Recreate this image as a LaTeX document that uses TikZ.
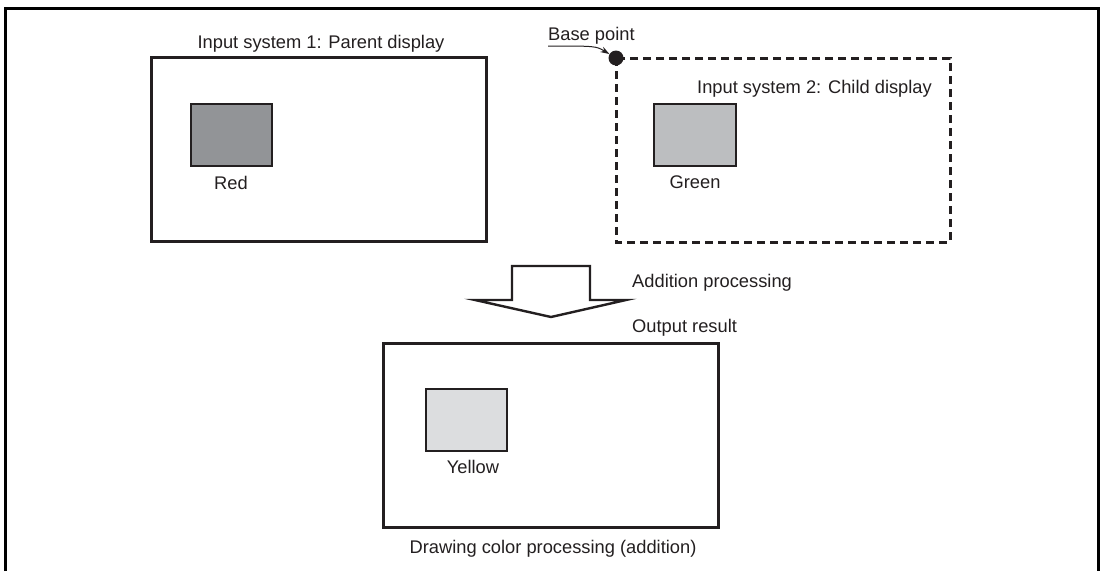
\documentclass[tikz,border=0pt]{standalone}
\usepackage{fontspec}
\setmainfont{Liberation Sans}
\usetikzlibrary{arrows.meta}
\definecolor{ink}{RGB}{35,31,32}
\definecolor{redgray}{RGB}{146,148,151}
\definecolor{greengray}{RGB}{188,190,192}
\definecolor{yellowgray}{RGB}{220,221,223}
\tikzset{
  txt/.style={font=\fontsize{18.3}{22}\selectfont, text=ink, inner sep=0pt},
  frame/.style={draw=ink, line width=3pt},
  swatch/.style={draw=ink, line width=2.4pt},
}

\begin{document}
\begin{tikzpicture}[x=1pt,y=-1pt]
\useasboundingbox (0,0) rectangle (1100,571);
\draw[line width=3pt] (5,571) -- (5,8) -- (1098,8) -- (1098,571);

% parent display
\draw[frame] (151,57) rectangle (486,241);
\node[txt, anchor=base] (ptitle) at (321,48) {Input system 1: Parent display};
\draw[swatch, fill=redgray] (191,104) rectangle (272,166);
\node[txt, anchor=base] (red) at (231,189) {Red};

% child display
\draw[frame, dash pattern=on 8pt off 5pt] (616,58) rectangle (950,242);
\node[circle, fill=ink, inner sep=0pt, minimum size=15pt] (dot) at (616,58) {};
\node[txt, anchor=base west] (bp) at (548,40) {Base point};
\coordinate (bpstart) at (548,46);
\draw[ink, line width=1pt, -{Stealth[length=9pt,width=6pt]}] (bpstart) .. controls (596,46) .. (dot);
\node[txt, anchor=base west] (ctitle) at (697,93) {Input system 2: Child display};
\draw[swatch, fill=greengray] (654,104) rectangle (736,166);
\node[txt, anchor=base] (green) at (695,188) {Green};

% addition arrow
\draw[ink, line width=2.4pt, fill=white] (512,266) -- (590,266) -- (590,300) -- (626,300)
  -- (551,317) -- (475,300) -- (512,300) -- cycle;
\node[txt, anchor=base west] (add) at (632,287) {Addition processing};
\node[txt, anchor=base west] (out) at (632,332) {Output result};

% output result
\draw[frame] (383,343) rectangle (718,527);
\draw[swatch, fill=yellowgray] (426,389) rectangle (507,451);
\node[txt, anchor=base] (yellow) at (473,473) {Yellow};
\node[txt, anchor=base] (draw) at (553,553) {Drawing color processing (addition)};
\end{tikzpicture}
\end{document}
